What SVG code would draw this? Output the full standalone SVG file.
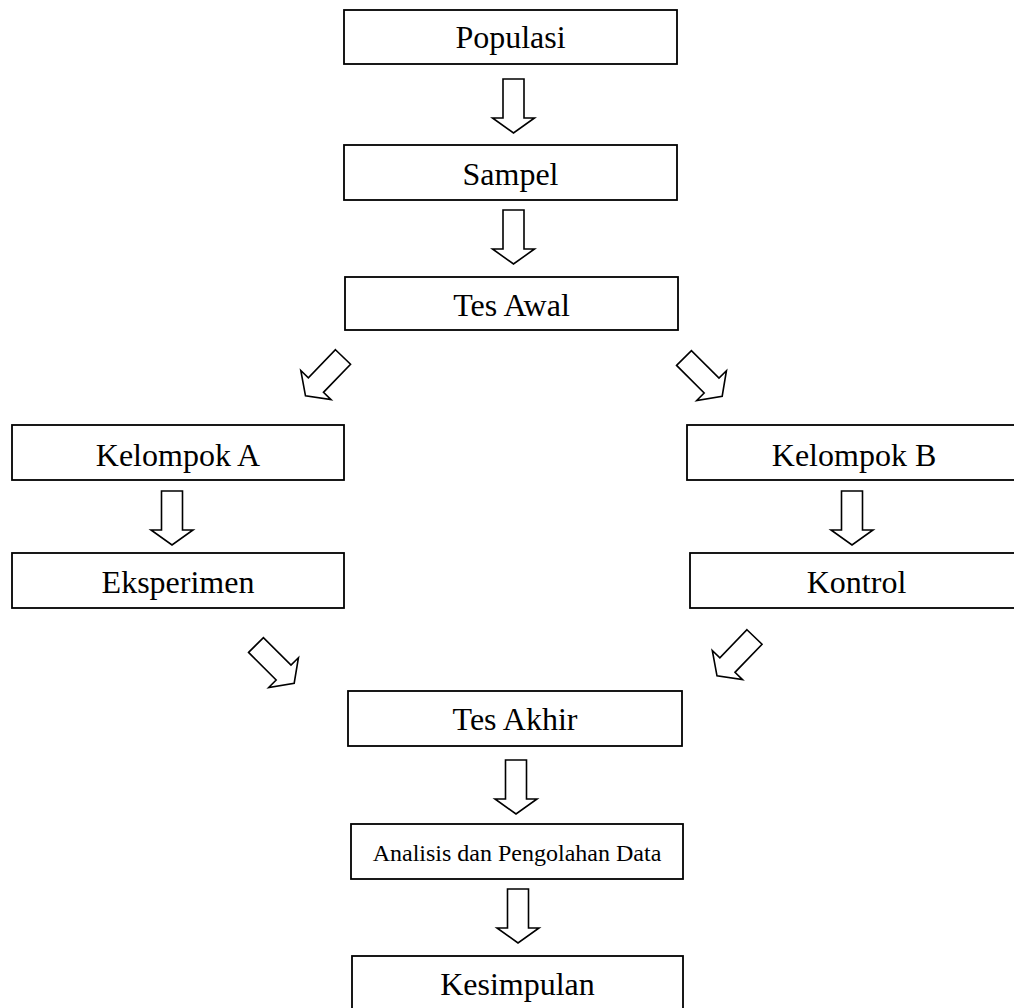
<svg xmlns="http://www.w3.org/2000/svg" width="1014" height="1008" viewBox="0 0 1014 1008">
<style>
.box{fill:#fff;stroke:#000;stroke-width:1.8}
.t{font-family:"Liberation Serif","Times New Roman",serif;font-size:32px;fill:#000;text-anchor:middle}
.ts{font-family:"Liberation Serif","Times New Roman",serif;font-size:24px;fill:#000;text-anchor:middle}
.arr{fill:#fff;stroke:#000;stroke-width:1.6;stroke-linejoin:miter}
</style>
<defs>
<path id="ba" d="M-10.5,0 H10.5 V39 H21 L0,54 L-21,39 H-10.5 Z"/>
</defs>
<rect width="1014" height="1008" fill="#fff"/>
<g id="connectors">
<use href="#ba" class="arr" transform="translate(513.5,79)"/>
<use href="#ba" class="arr" transform="translate(513.5,210)"/>
<use href="#ba" class="arr" transform="translate(343,357) rotate(44)"/>
<use href="#ba" class="arr" transform="translate(684,358) rotate(-45)"/>
<use href="#ba" class="arr" transform="translate(172,491)"/>
<use href="#ba" class="arr" transform="translate(852,491)"/>
<use href="#ba" class="arr" transform="translate(256,645) rotate(-45)"/>
<use href="#ba" class="arr" transform="translate(754.5,637) rotate(44)"/>
<use href="#ba" class="arr" transform="translate(516,760)"/>
<use href="#ba" class="arr" transform="translate(518,889)"/>
</g>
<g id="populasi"><rect class="box" x="344" y="10" width="333" height="54"/><text class="t" x="510.5" y="48">Populasi</text></g>
<g id="sampel"><rect class="box" x="344" y="145" width="333" height="55"/><text class="t" x="510.5" y="185">Sampel</text></g>
<g id="tes-awal"><rect class="box" x="345" y="277" width="333" height="53"/><text class="t" x="511.5" y="316">Tes Awal</text></g>
<g id="kelompok-a"><rect class="box" x="12" y="425" width="332" height="55"/><text class="t" x="178" y="466">Kelompok A</text></g>
<g id="kelompok-b"><rect class="box" x="687" y="425" width="334" height="55"/><text class="t" x="854" y="466">Kelompok B</text></g>
<g id="eksperimen"><rect class="box" x="12" y="553" width="332" height="55"/><text class="t" x="178" y="593">Eksperimen</text></g>
<g id="kontrol"><rect class="box" x="690" y="553" width="333" height="55"/><text class="t" x="856.5" y="593">Kontrol</text></g>
<g id="tes-akhir"><rect class="box" x="348" y="691" width="334" height="55"/><text class="t" x="515" y="730">Tes Akhir</text></g>
<g id="analisis"><rect class="box" x="351" y="824" width="332" height="55"/><text class="ts" x="517" y="861">Analisis dan Pengolahan Data</text></g>
<g id="kesimpulan"><rect class="box" x="352" y="956" width="331" height="60"/><text class="t" x="517.5" y="995">Kesimpulan</text></g>
</svg>
